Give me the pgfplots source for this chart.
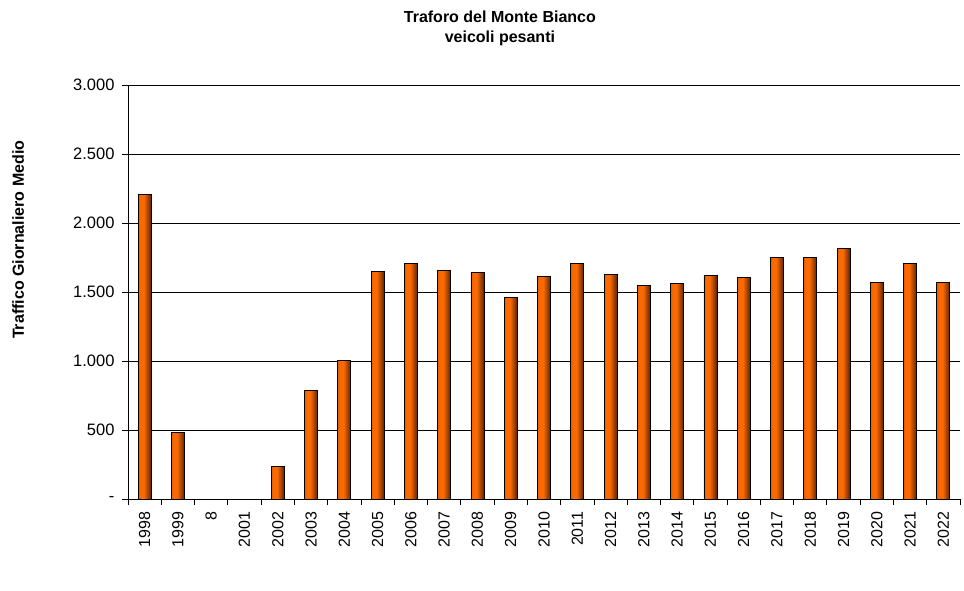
\documentclass[border=0pt]{standalone}
\usepackage{pgfplots}
\pgfplotsset{compat=1.18}
\usepackage{fontspec}
\setmainfont{Liberation Sans}
\definecolor{barL}{RGB}{225,92,8}
\definecolor{barM}{RGB}{250,106,0}
\definecolor{barR}{RGB}{95,34,0}
\pgfdeclarehorizontalshading{barshade}{100bp}{color(0bp)=(barL); color(25bp)=(barL); color(33bp)=(barM); color(47bp)=(barM); color(75bp)=(barR); color(100bp)=(barR)}
\pgfplotsset{B/.style={draw=black, line width=0.8pt, shade, shading=barshade, bar shift=0pt}}
\begin{document}
\begin{tikzpicture}[x=1pt,y=1pt]
\useasboundingbox (0,0) rectangle (964,590);
\begin{axis}[
  at={(128pt,91pt)}, anchor=south west,
  scale only axis, width=832pt, height=414pt,
  xmin=-0.5, xmax=24.5, ymin=0, ymax=3000,
  axis x line*=bottom, axis y line*=left,
  axis line style={black, line width=0.8pt},
  xtick={0,...,24},
  xticklabels={1998,1999,8,2001,2002,2003,2004,2005,2006,2007,2008,2009,2010,2011,2012,2013,2014,2015,2016,2017,2018,2019,2020,2021,2022},
  x tick label style={rotate=90, anchor=east, yshift=0pt, xshift=-3pt, font=\fontsize{16}{18}\selectfont},
  minor xtick={-0.5,0.5,...,24.5},
  major x tick style={draw=none},
  minor x tick style={black, line width=0.8pt},
  tick align=outside,
  minor tick length=6pt, major tick length=6pt,
  ytick={0,500,...,3000},
  yticklabels={-,500,{1.000},{1.500},{2.000},{2.500},{3.000}},
  y tick label style={xshift=-4pt, font=\fontsize{16.5}{18}\selectfont},
  y tick style={black, line width=0.8pt},
  ymajorgrids, grid style={black, line width=0.8pt},
  title={Traforo del Monte Bianco\\veicoli pesanti},
  title style={at={(axis description cs:0.447,1)}, anchor=south, yshift=30pt, align=center, font=\fontsize{16}{20}\bfseries},
  ylabel={Traffico Giornaliero Medio},
  every axis y label/.style={at={(axis description cs:-0.132,0.626)}, rotate=90, anchor=center, font=\fontsize{16}{18}\bfseries},
  ybar, bar width=13pt,
]
\addplot[B] coordinates {(0,2208)};
\addplot[B] coordinates {(1,483)};
\addplot[B] coordinates {(4,239)};
\addplot[B] coordinates {(5,788)};
\addplot[B] coordinates {(6,1005)};
\addplot[B] coordinates {(7,1652)};
\addplot[B] coordinates {(8,1708)};
\addplot[B] coordinates {(9,1655)};
\addplot[B] coordinates {(10,1643)};
\addplot[B] coordinates {(11,1462)};
\addplot[B] coordinates {(12,1614)};
\addplot[B] coordinates {(13,1708)};
\addplot[B] coordinates {(14,1628)};
\addplot[B] coordinates {(15,1549)};
\addplot[B] coordinates {(16,1563)};
\addplot[B] coordinates {(17,1621)};
\addplot[B] coordinates {(18,1607)};
\addplot[B] coordinates {(19,1751)};
\addplot[B] coordinates {(20,1751)};
\addplot[B] coordinates {(21,1817)};
\addplot[B] coordinates {(22,1570)};
\addplot[B] coordinates {(23,1708)};
\addplot[B] coordinates {(24,1570)};
\end{axis}
\end{tikzpicture}
\end{document}
